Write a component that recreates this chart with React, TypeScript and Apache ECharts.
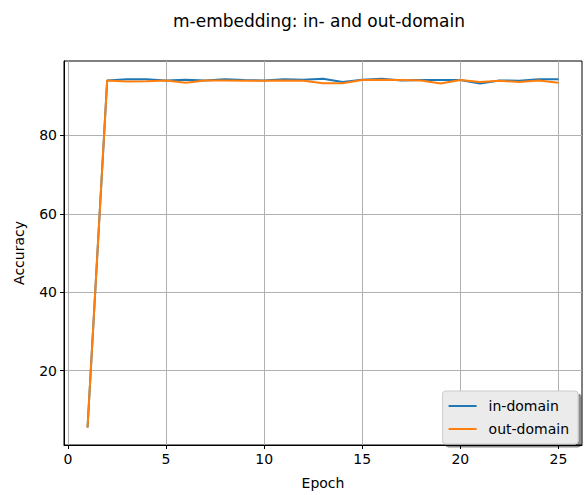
import React, { useEffect, useRef } from "react";
import * as echarts from "echarts";

const epochs = [1, 2, 3, 4, 5, 6, 7, 8, 9, 10, 11, 12, 13, 14, 15, 16, 17, 18, 19, 20, 21, 22, 23, 24, 25];
const inDomain = [5.5, 94.0, 94.3, 94.3, 94.0, 94.2, 94.0, 94.3, 94.1, 94.0, 94.3, 94.2, 94.4, 93.6, 94.2, 94.4, 94.0, 94.1, 94.1, 94.1, 93.2, 94.0, 93.9, 94.3, 94.3];
const outDomain = [5.5, 94.0, 93.7, 93.8, 94.0, 93.4, 94.0, 94.0, 93.9, 93.9, 94.0, 93.9, 93.3, 93.3, 94.1, 94.2, 94.1, 94.0, 93.2, 94.1, 93.6, 93.9, 93.6, 94.0, 93.4];
const xTicks = [0, 5, 10, 15, 20, 25];
const yTicks = [20, 40, 60, 80];

export default function App() {
  const ref = useRef<HTMLDivElement>(null);
  useEffect(() => {
    const chart = echarts.init(ref.current!, null, { renderer: "svg" });
    const font = "DejaVu Sans";
    chart.setOption({
      animation: false,
      backgroundColor: "#ffffff",
      textStyle: { fontFamily: font },
      title: {
        text: "m-embedding: in- and out-domain",
        left: 314,
        top: 7,
        textAlign: "center",
        textStyle: { fontFamily: font, fontSize: 17, fontWeight: "normal", color: "#000" },
      },
      grid: { left: 64, top: 61, width: 518, height: 386, show: true, borderColor: "#000", borderWidth: 1 },
      xAxis: {
        type: "value",
        min: -0.2,
        max: 26.2,
        name: "Epoch",
        nameLocation: "middle",
        nameGap: 31,
        nameTextStyle: { fontFamily: font, fontSize: 14, color: "#000" },
        axisLine: { show: true, onZero: false, lineStyle: { color: "#000" } },
        axisTick: { show: true, customValues: xTicks, length: 4, lineStyle: { color: "#000" } },
        axisLabel: { customValues: xTicks, fontFamily: font, fontSize: 14, color: "#000", margin: 7 },
        splitLine: { show: true, lineStyle: { color: "#b0b0b0", width: 1 } },
      },
      yAxis: {
        type: "value",
        min: 1.05,
        max: 98.95,
        name: "Accuracy",
        nameLocation: "middle",
        nameGap: 38,
        nameTextStyle: { fontFamily: font, fontSize: 14, color: "#000" },
        axisLine: { show: true, onZero: false, lineStyle: { color: "#000" } },
        axisTick: { show: true, customValues: yTicks, length: 4, lineStyle: { color: "#000" } },
        axisLabel: { customValues: yTicks, fontFamily: font, fontSize: 14, color: "#000", margin: 7 },
        splitLine: { show: true, lineStyle: { color: "#b0b0b0", width: 1 } },
      },
      legend: {
        orient: "vertical",
        right: 7,
        top: 391,
        icon: "rect",
        itemWidth: 28,
        itemHeight: 2,
        itemGap: 9,
        padding: [8, 9, 8, 6],
        backgroundColor: "#ebebeb",
        borderColor: "#cccccc",
        borderWidth: 1,
        borderRadius: 3,
        shadowColor: "rgba(0,0,0,0.45)",
        shadowOffsetX: 3,
        shadowOffsetY: 3,
        shadowBlur: 0,
        textStyle: { fontFamily: font, fontSize: 14, color: "#000", padding: [0, 0, 0, 7] },
        data: ["in-domain", "out-domain"],
      },
      series: [
        {
          name: "in-domain",
          type: "line",
          data: epochs.map((e, i) => [e, inDomain[i]]),
          showSymbol: false,
          symbol: "none",
          lineStyle: { color: "#1f77b4", width: 2 },
          itemStyle: { color: "#1f77b4" },
        },
        {
          name: "out-domain",
          type: "line",
          data: epochs.map((e, i) => [e, outDomain[i]]),
          showSymbol: false,
          symbol: "none",
          lineStyle: { color: "#ff7f0e", width: 2 },
          itemStyle: { color: "#ff7f0e" },
        },
      ],
    });
    return () => chart.dispose();
  }, []);
  return (
    <div
      ref={ref}
      style={{ position: "fixed", left: 0, top: 0, width: 585, height: 495 }}
    />
  );
}
